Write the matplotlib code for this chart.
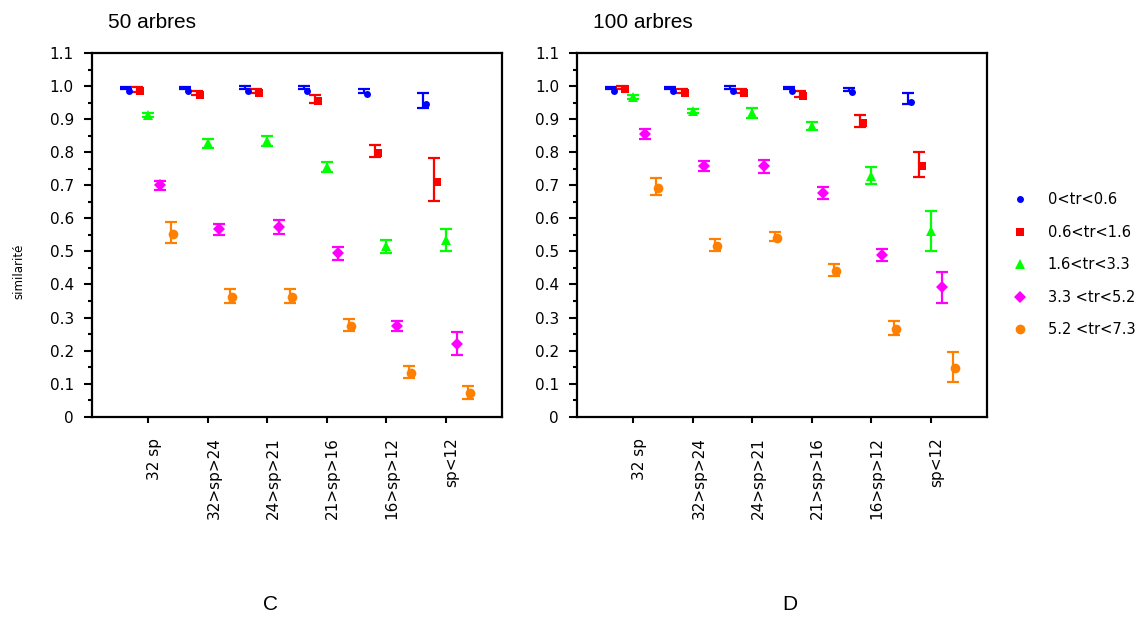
import matplotlib
matplotlib.use("Agg")
import matplotlib.pyplot as plt
import matplotlib.transforms as mtransforms
from matplotlib.lines import Line2D
import numpy as np

# categories (nombre d'especes)
groupes = ['32 sp', '32>sp>24', '24>sp>21', '21>sp>16', '16>sp>12', 'sp<12']
classes = ['0<tr<0.6', '0.6<tr<1.6', '1.6<tr<3.3', '3.3 <tr<5.2', '5.2 <tr<7.3']

# 50 arbres
a50_bleu = [0.993, 0.993, 0.995, 0.995, 0.985, 0.956]
a50_rouge = [0.990, 0.978, 0.985, 0.961, 0.805, 0.716]
a50_vert = [0.912, 0.827, 0.835, 0.755, 0.515, 0.535]
a50_magenta = [0.700, 0.567, 0.575, 0.494, 0.274, 0.221]
a50_orange = [0.556, 0.365, 0.365, 0.278, 0.135, 0.074]
e50_bleu = [0.003, 0.003, 0.005, 0.005, 0.007, 0.023]
e50_rouge = [0.008, 0.006, 0.006, 0.013, 0.018, 0.065]
e50_vert = [0.006, 0.014, 0.015, 0.014, 0.020, 0.033]
e50_magenta = [0.014, 0.016, 0.021, 0.020, 0.015, 0.034]
e50_orange = [0.032, 0.022, 0.022, 0.018, 0.019, 0.019]

# 100 arbres
a100_bleu = [0.993, 0.993, 0.995, 0.993, 0.990, 0.962]
a100_rouge = [0.996, 0.985, 0.985, 0.977, 0.895, 0.764]
a100_vert = [0.968, 0.926, 0.918, 0.880, 0.729, 0.562]
a100_magenta = [0.855, 0.758, 0.757, 0.676, 0.489, 0.392]
a100_orange = [0.696, 0.519, 0.545, 0.443, 0.269, 0.150]
e100_bleu = [0.003, 0.003, 0.005, 0.003, 0.005, 0.017]
e100_rouge = [0.004, 0.006, 0.006, 0.009, 0.018, 0.038]
e100_vert = [0.006, 0.006, 0.015, 0.012, 0.025, 0.061]
e100_magenta = [0.014, 0.014, 0.020, 0.018, 0.019, 0.047]
e100_orange = [0.025, 0.018, 0.015, 0.018, 0.022, 0.045]

couleurs = ['#0000ff', '#ff0000', '#00ff00', '#ff00ff', '#ff8000']
marqueurs = ['o', 's', '^', 'D', 'o']
tailles = [5, 5.5, 7, 6, 7]
decalage = [-0.38, -0.19, 0.0, 0.19, 0.38]
# petit decalage des symboles par rapport aux barres (pixels)
dec_px = [(3, -3), (3, -2), (0, 0), (0, 0), (2, -1)]

panneaux = [
    ('50 arbres', 'C', 270,
     [a50_bleu, a50_rouge, a50_vert, a50_magenta, a50_orange],
     [e50_bleu, e50_rouge, e50_vert, e50_magenta, e50_orange]),
    ('100 arbres', 'D', 790,
     [a100_bleu, a100_rouge, a100_vert, a100_magenta, a100_orange],
     [e100_bleu, e100_rouge, e100_vert, e100_magenta, e100_orange]),
]

plt.rcParams['font.family'] = ['DejaVu Sans']

fig = plt.figure(figsize=(11.44, 6.18), dpi=100)
positions = [[0.0804, 0.3257, 0.3584, 0.5885], [0.5044, 0.3257, 0.3584, 0.5885]]
x = np.arange(1, len(groupes) + 1)

for k, (titre, lettre, x_lettre, series, erreurs) in enumerate(panneaux):
    ax = fig.add_axes(positions[k])
    for i in range(5):
        xs = x + decalage[i]
        ax.errorbar(xs, series[i], yerr=erreurs[i], fmt='none', ecolor=couleurs[i],
                    elinewidth=1.6, capsize=4, capthick=1.6, zorder=2)
        tr = ax.transData + mtransforms.ScaledTranslation(
            dec_px[i][0] / 100, dec_px[i][1] / 100, fig.dpi_scale_trans)
        ax.plot(xs, series[i], linestyle='none', marker=marqueurs[i], color=couleurs[i],
                markersize=tailles[i], markeredgewidth=0, transform=tr, zorder=3)

    ax.set_xlim(0.05, 6.95)
    ax.set_ylim(0, 1.1)
    ax.set_yticks(np.arange(0, 1.101, 0.1))
    ax.set_yticklabels(['0'] + ['%.1f' % v for v in np.arange(0.1, 1.101, 0.1)])
    ax.set_yticks(np.arange(0.05, 1.1, 0.1), minor=True)
    ax.set_xticks(x)
    ax.set_xticklabels(groupes, rotation=90, va='top', ha='center')
    ax.tick_params(axis='y', which='major', direction='out', length=6, width=1.5,
                   labelsize=11, pad=7, right=False)
    ax.tick_params(axis='y', which='minor', direction='out', length=3, width=1.5, right=False)
    ax.tick_params(axis='x', direction='out', length=4, width=1.5, labelsize=11, pad=11,
                   top=False)
    decal_lab = mtransforms.ScaledTranslation(6 / 100, 0, fig.dpi_scale_trans)
    for lab in ax.get_xticklabels():
        lab.set_transform(lab.get_transform() + decal_lab)
    for sp in ax.spines.values():
        sp.set_linewidth(1.6)
        sp.set_color('black')

    x0 = positions[k][0]
    fig.text(x0 + 16 / 1144, 1 - 22 / 618, titre, fontsize=15, family='Liberation Sans',
             ha='left', va='center')
    fig.text(x_lettre / 1144, 1 - 605 / 618, lettre, fontsize=15,
             family='Liberation Sans', ha='center', va='center')
    if k == 0:
        ax.set_ylabel('similarité', fontsize=8.5)
        ax.yaxis.set_label_coords(-0.163, 0.40)

poignees = [Line2D([], [], linestyle='none', marker=marqueurs[i], color=couleurs[i],
                   markersize=tailles[i], markeredgewidth=0) for i in range(5)]
fig.legend(poignees, classes, loc='upper left', bbox_to_anchor=(0.880, 0.698),
           frameon=False, fontsize=10.5, handlelength=1.0, handletextpad=1.4,
           labelspacing=1.2, borderaxespad=0)

fig.savefig('out.png', dpi=100)
